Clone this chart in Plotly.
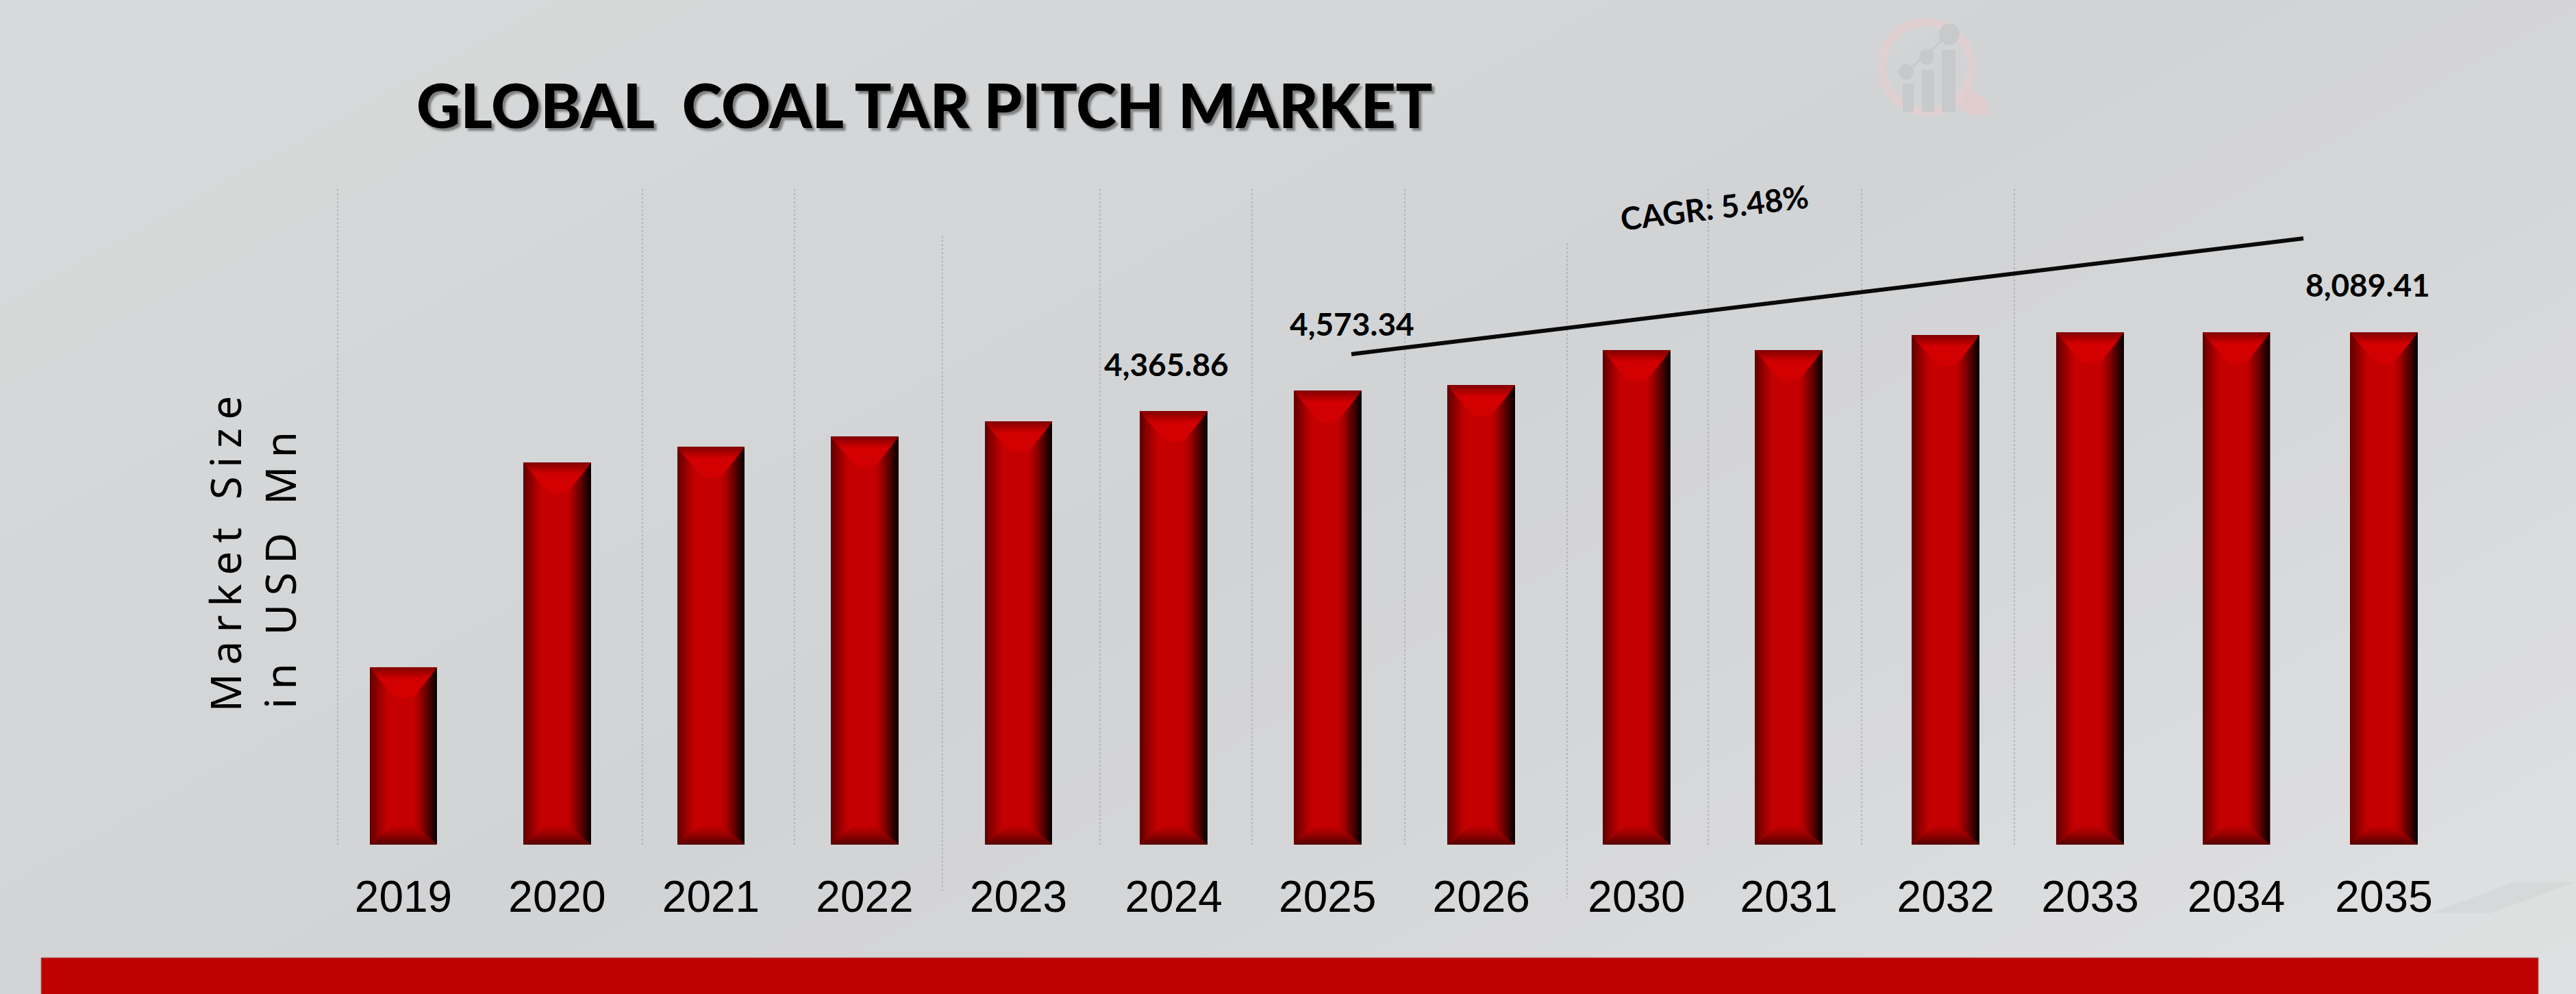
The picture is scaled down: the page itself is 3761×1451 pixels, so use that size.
import plotly.graph_objects as go

years = ["2019", "2020", "2021", "2022", "2023", "2024", "2025", "2026",
         "2030", "2031", "2032", "2033", "2034", "2035"]
# bar heights (the axis itself is hidden)
market_size = [1787, 3850, 4009, 4112, 4264, 4365.86, 4573.34, 4630,
               4982, 4982, 5134, 5161, 5161, 5161]
# the years are not evenly spaced in the original
slots = [0, 1, 2, 3, 4, 5.01, 6.01, 7.01, 8.02, 9.01, 10.03, 10.97, 11.92, 12.88]
value_labels = ["4,365.86", "4,573.34", "8,089.41"]
cagr_label = "CAGR: 5.48%"
chart_title = "GLOBAL  COAL TAR PITCH MARKET"

W = 3761
H = 1451
BASE_PX = 1233      # pixel row of y=0
PX_PER_SLOT = 224.5
UNITS_PER_PX = 6.9
FIRST_BAR_PX = 589
BAR_W = 0.4365


def px_x(x):
    return x / W


def px_y(y):
    return 1 - y / BASE_PX


def mix(c1, c2, t):
    return "#" + "".join("%02x" % round(a + (b - a) * t) for a, b in zip(c1, c2))


shapes = []

# background: diagonal grey bands, lighter towards the lower right
stops = [(0, (215, 217, 218)), (900, (212, 214, 215)), (1700, (210, 211, 213)),
         (2300, (213, 214, 215)), (2800, (218, 219, 220)), (3520, (224, 225, 226))]
for i in range(len(stops) - 1):
    c0, col0 = stops[i]
    c1, col1 = stops[i + 1]
    for k in range(8):
        c = c0 + (c1 - c0) * k / 8
        path = "M 0 %f L %f %f L %f %f L 0 %f Z" % (
            px_y(c), 1, px_y(c - 0.55 * W), 1, px_y(H), px_y(H))
        shapes.append(dict(type="path", path=path, xref="paper", yref="paper",
                           fillcolor=mix(col0, col1, k / 8), line_width=0, layer="below"))

# faint wedge behind the last tick labels
shapes.append(dict(type="path", xref="paper", yref="paper", layer="below", line_width=0,
                   fillcolor="rgba(190,190,190,0.22)",
                   path="M %f %f L %f %f L %f %f L %f %f Z" % (
                       px_x(3549), px_y(1333), px_x(3670), px_y(1288),
                       px_x(3758), px_y(1288), px_x(3636), px_y(1333))))

# dotted grid lines: x, top, bottom
grid_lines = [(493, 276, 1233), (938, 276, 1233), (1160, 276, 1233), (1376, 344, 1300),
              (1606, 276, 1233), (1828, 276, 1233), (2051, 276, 1233), (2288, 355, 1310),
              (2494, 276, 1233), (2718, 276, 1233), (2941, 276, 1233)]
for gx, gtop, gbottom in grid_lines:
    shapes.append(dict(type="line", xref="paper", yref="paper", layer="below",
                       x0=px_x(gx), x1=px_x(gx), y0=px_y(gtop), y1=px_y(gbottom),
                       line=dict(color="#a9abad", width=1.5, dash="dot")))

# watermark logo
shapes.append(dict(type="circle", xref="paper", yref="paper", layer="below",
                   x0=px_x(2748), x1=px_x(2878), y0=px_y(32), y1=px_y(163),
                   line=dict(color="#e0d0d2", width=12)))
shapes.append(dict(type="path", xref="paper", yref="paper", layer="below", line_width=0,
                   fillcolor="#e0cbcd",
                   path="M %f %f L %f %f L %f %f L %f %f L %f %f Z" % (
                       px_x(2874), px_y(130), px_x(2902), px_y(147), px_x(2902), px_y(168),
                       px_x(2878), px_y(168), px_x(2859), px_y(155))))
for bx0, bx1, btop in [(2778, 2794, 122), (2806, 2824, 102), (2835, 2855, 73)]:
    shapes.append(dict(type="rect", xref="paper", yref="paper", layer="below", line_width=0,
                       fillcolor="#c7c9cb", x0=px_x(bx0), x1=px_x(bx1), y0=px_y(btop), y1=px_y(163)))
for dx, dy, r in [(2783, 105, 11), (2813, 83, 11), (2846, 50, 15)]:
    shapes.append(dict(type="circle", xref="paper", yref="paper", layer="below", line_width=0,
                       fillcolor="#c7c9cb", x0=px_x(dx - r), x1=px_x(dx + r),
                       y0=px_y(dy - r * 1.05), y1=px_y(dy + r * 1.05)))
shapes.append(dict(type="line", xref="paper", yref="paper", layer="below",
                   x0=px_x(2783), y0=px_y(105), x1=px_x(2846), y1=px_y(50),
                   line=dict(color="#c7c9cb", width=3)))

# red strip at the foot
shapes.append(dict(type="rect", xref="paper", yref="paper", layer="below",
                   x0=px_x(60), x1=px_x(3706), y0=px_y(1398), y1=px_y(H + 5),
                   fillcolor="#be0000", line=dict(color="#b07070", width=1)))

# CAGR line
shapes.append(dict(type="line", xref="paper", yref="paper", layer="above",
                   x0=px_x(1973), y0=px_y(517), x1=px_x(3363), y1=px_y(348),
                   line=dict(color="#0a0a0a", width=6)))

fig = go.Figure()

# bars, side shading is painted as nested strips over the base colour
fig.add_trace(go.Bar(x=slots, y=market_size, width=BAR_W, marker=dict(color="#c40000", line_width=0),
                     showlegend=False, hoverinfo="skip"))
steps = 14
for k in range(steps):
    frac = 0.26 * (1 - k / steps)
    col = mix((196, 0, 0), (100, 0, 0), ((k + 1) / steps) ** 1.2)
    fig.add_trace(go.Bar(x=slots, y=market_size, width=BAR_W * frac, offset=-BAR_W / 2,
                         marker=dict(color=col, line_width=0), showlegend=False, hoverinfo="skip"))
for k in range(steps):
    frac = 0.34 * (1 - k / steps)
    col = mix((196, 0, 0), (8, 0, 0), ((k + 1) / steps) ** 1.25)
    fig.add_trace(go.Bar(x=slots, y=market_size, width=BAR_W * frac, offset=BAR_W / 2 - BAR_W * frac,
                         marker=dict(color=col, line_width=0), showlegend=False, hoverinfo="skip"))


def polygon_trace(color, outline, at_top):
    # outline is a list of (fraction of bar width, depth in px from the bar end)
    xs, ys = [], []
    for slot, value in zip(slots, market_size):
        for f, d in outline:
            xs.append(slot - BAR_W / 2 + f * BAR_W)
            if at_top:
                ys.append(value - d * UNITS_PER_PX)
            else:
                ys.append(d * UNITS_PER_PX)
        xs.append(None)
        ys.append(None)
    return go.Scatter(x=xs, y=ys, mode="lines", fill="toself", fillcolor=color,
                      line=dict(width=0, color=color), showlegend=False, hoverinfo="skip")


# top bevel: curved V with a dark band along the upper edge
V_DEPTH = 46
v_shape = [(0, 0), (1, 0), (0.90, 0.30 * V_DEPTH), (0.78, 0.62 * V_DEPTH), (0.66, 0.93 * V_DEPTH),
           (0.5, V_DEPTH), (0.37, 0.95 * V_DEPTH), (0.25, 0.66 * V_DEPTH), (0.12, 0.33 * V_DEPTH)]
fig.add_trace(polygon_trace("#d20000", v_shape, True))
for k in range(8):
    d = 16 * (1 - k / 8)
    inset = 0.36 * d / V_DEPTH
    fig.add_trace(polygon_trace(mix((210, 0, 0), (132, 0, 0), (k + 1) / 8),
                                [(0, 0), (1, 0), (1 - inset, d), (inset, d)], True))

# bottom bevel
for k in range(10):
    d = 26 * (1 - k / 10)
    inset = 0.32 * d / 26
    fig.add_trace(polygon_trace(mix((190, 0, 0), (88, 0, 0), ((k + 1) / 10) ** 1.3),
                                [(0, 0), (1, 0), (1 - inset, d), (inset, d)], False))

annotations = [
    dict(text=chart_title, x=px_x(1350), y=px_y(152), font=dict(family="Lato", size=89, color="#000000",
         weight=900, shadow="4px 4px 3px #7d7f80")),
    dict(text=value_labels[0], x=px_x(1703), y=px_y(531), font=dict(family="Lato", size=46, color="#000000", weight="bold")),
    dict(text=value_labels[1], x=px_x(1974), y=px_y(473), font=dict(family="Lato", size=46, color="#000000", weight="bold")),
    dict(text=value_labels[2], x=px_x(3457), y=px_y(415), font=dict(family="Lato", size=46, color="#000000", weight="bold")),
    dict(text=cagr_label, x=px_x(2503), y=px_y(302), textangle=-7,
         font=dict(family="Lato", size=46, color="#000000", weight="bold")),
    dict(text="Market Size", x=px_x(328), y=px_y(803), textangle=-90,
         font=dict(family="Noto Sans", size=62, color="#000000")),
    dict(text="in USD Mn", x=px_x(408), y=px_y(826), textangle=-90,
         font=dict(family="Noto Sans", size=62, color="#000000")),
]
for a in annotations:
    a.update(xref="paper", yref="paper", showarrow=False, xanchor="center", yanchor="middle")

fig.update_layout(
    width=W,
    height=H,
    margin=dict(l=0, r=0, t=0, b=H - BASE_PX),
    barmode="overlay",
    paper_bgcolor="#d4d5d6",
    plot_bgcolor="rgba(0,0,0,0)",
    showlegend=False,
    shapes=shapes,
    annotations=annotations,
    xaxis=dict(
        range=[-FIRST_BAR_PX / PX_PER_SLOT, (W - FIRST_BAR_PX) / PX_PER_SLOT],
        tickmode="array",
        tickvals=slots,
        ticktext=years,
        ticks="outside",
        ticklen=20,
        tickcolor="rgba(0,0,0,0)",
        tickfont=dict(family="Liberation Sans", size=64, color="#000000"),
        showgrid=False,
        zeroline=False,
        showline=False,
    ),
    yaxis=dict(range=[0, BASE_PX * UNITS_PER_PX], visible=False),
)

# the axis title in the original has wide character spacing
js = """
document.querySelectorAll('.annotation-text').forEach(function (t) {
  var s = t.textContent;
  if (s === 'Market Size' || s === 'in USD Mn') { t.style.letterSpacing = '0.2em'; }
});
document.body.style.margin = '0';
"""
fig.write_html("out.html", post_script=js, config=dict(displayModeBar=False))
